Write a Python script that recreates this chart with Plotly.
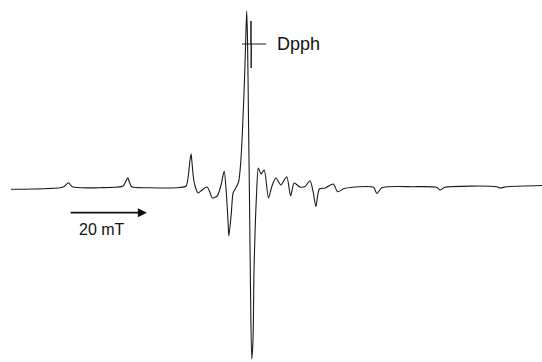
import plotly.graph_objects as go

# EPR first-derivative spectrum (field in mT, signal in arbitrary units)
field_mT = [
    277.2, 282.9, 289.8, 290.9, 292.0, 292.9, 293.7, 300.1, 306.1, 306.7,
    307.3, 307.7, 308.3, 313.0, 320.7, 322.3, 322.9, 323.3, 323.6, 323.8,
    324.2, 324.6, 325.4, 326.4, 327.7, 328.5, 329.0, 330.3, 331.3, 332.1,
    332.6, 333.1, 333.3, 333.9, 334.4, 335.1, 335.8, 336.2, 336.56, 336.95,
    337.33, 337.64, 337.90, 338.11, 338.36, 338.62, 338.88, 339.19, 339.52, 339.78,
    340.04, 340.42, 340.9, 341.6, 342.4, 343.5, 344.4, 345.4, 346.7, 348.2,
    349.2, 350.1, 351.6, 352.9, 354.2, 355.0, 355.7, 356.6, 358.1, 360.2,
    361.3, 363.2, 370.5, 371.4, 372.7, 380.8, 386.8, 387.7, 388.9, 402.3,
    403.1, 404.8, 413.9,
]
signal_au = [
    -2.3, -2.0, -0.7, 0.5, 4.3, 0.5, -0.3, -0.7, 1.0, 5.0,
    9.3, 5.0, 0.3, -0.7, -0.5, 1.0, 12.0, 27.0, 33.0, 25.0,
    9.0, 1.0, -6.0, -3.0, 0.0, -6.0, -11.0, -9.0, 2.0, 16.0,
    -3.0, -35.0, -49.0, -28.0, -6.0, -1.0, 5.0, 17.0, 37.0, 70.0,
    107.0, 147.0, 176.0, 147.0, 67.0, -13.0, -103.0, -172.0, -153.0, -83.0,
    -46.0, -8.0, 19.0, 13.0, 17.0, -11.0, 1.0, 9.0, 2.0, 10.3,
    -9.0, 4.0, 0.0, 0.5, 6.3, -5.0, -19.5, -2.0, -1.0, 3.0,
    -4.7, -1.3, -0.3, -6.5, -0.7, 0.3, -0.3, -3.0, -0.3, 0.3,
    -1.0, 0.3, 1.5,
]

# DPPH reference line (narrow derivative signal)
dpph_field = [338.95, 339.0, 339.05, 339.1]
dpph_signal = [143.0, 166.0, 119.0, 143.0]
dpph_label = "Dpph"
dpph_leader = [336.7, 342.9]
dpph_level = 143.0

# Field scale bar
scale_bar_mT = 20
scale_bar_start = 292.2
scale_bar_level = -25.7
scale_label = "20 mT"

x_range = [274.4, 413.9]
y_range = [-175.0, 187.0]

ink = "#1a1a1a"

fig = go.Figure()
fig.add_trace(go.Scatter(
    x=field_mT, y=signal_au, mode="lines",
    line=dict(color=ink, width=1.1, shape="spline", smoothing=0.7),
    hoverinfo="skip", showlegend=False,
))
fig.add_trace(go.Scatter(
    x=dpph_field, y=dpph_signal, mode="lines",
    line=dict(color=ink, width=1.0),
    hoverinfo="skip", showlegend=False,
))
fig.add_trace(go.Scatter(
    x=dpph_leader, y=[dpph_level, dpph_level], mode="lines",
    line=dict(color=ink, width=1.0),
    hoverinfo="skip", showlegend=False,
))

fig.add_annotation(
    x=dpph_leader[1] + 2.4, y=dpph_level, xref="x", yref="y",
    text=dpph_label, showarrow=False, xanchor="left", yanchor="middle",
    font=dict(family="Liberation Sans, Arial, sans-serif", size=18, color="#111"),
)

# scale bar arrow
fig.add_annotation(
    x=scale_bar_start + scale_bar_mT, y=scale_bar_level,
    ax=scale_bar_start, ay=scale_bar_level,
    xref="x", yref="y", axref="x", ayref="y",
    text="", showarrow=True, arrowhead=2, arrowsize=1.0,
    arrowwidth=1.8, arrowcolor="#111",
)
fig.add_annotation(
    x=scale_bar_start + scale_bar_mT / 2 - 1.6, y=scale_bar_level - 16.5,
    xref="x", yref="y", text=scale_label, showarrow=False,
    xanchor="center", yanchor="middle",
    font=dict(family="Liberation Sans, Arial, sans-serif", size=16, color="#111"),
)

fig.update_xaxes(range=x_range, visible=False, fixedrange=True)
fig.update_yaxes(range=y_range, visible=False, fixedrange=True)
fig.update_layout(
    width=542, height=362,
    margin=dict(l=0, r=0, t=0, b=0),
    paper_bgcolor="white", plot_bgcolor="white",
)

fig.write_html("out.html")
